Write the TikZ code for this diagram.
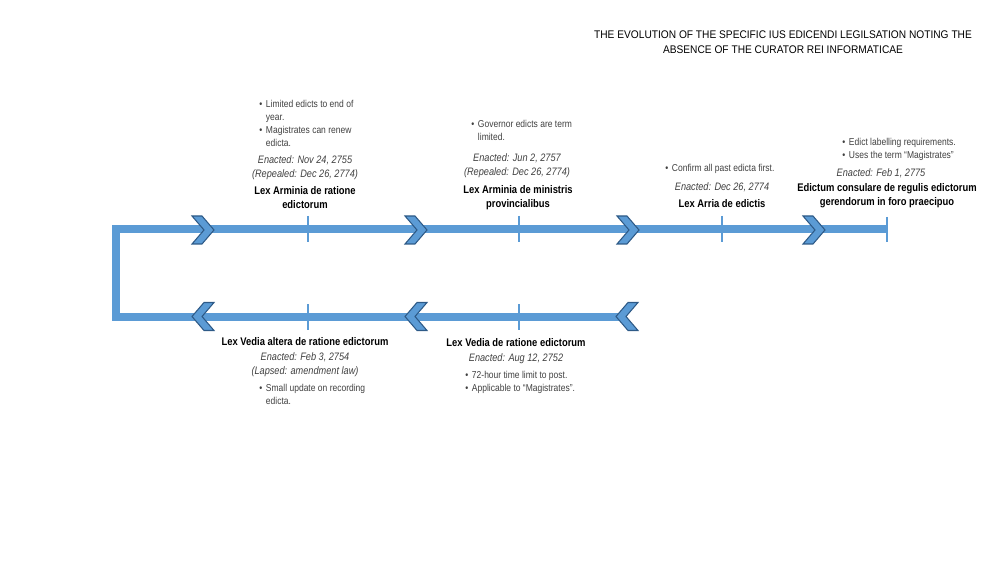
\documentclass[tikz,border=0pt]{standalone}
\usepackage{fontspec}
\setmainfont{Liberation Sans}
\newfontfamily\narrowsans[FakeStretch=0.85]{Liberation Sans}
\newfontfamily\titlesans[FakeStretch=0.92]{Liberation Sans}
\definecolor{tlblue}{HTML}{5B9BD5}
\definecolor{tledge}{HTML}{2E5A87}
\definecolor{txtgray}{HTML}{404040}
\newcommand\bulmark{\textbullet\hspace{2.8pt}}
\newcommand\bulgap{\hphantom{\textbullet\hspace{2.8pt}}}
\tikzset{
 tline/.style={draw=tlblue, line width=6pt, line join=miter},
 tickmark/.style={draw=tlblue, line width=2.2pt},
 chev/.style={fill=tlblue, draw=tledge, line width=0.8pt, line join=miter},
 lawtitle/.style={font=\narrowsans\fontsize{8.3}{10.5}\selectfont\bfseries, align=center, anchor=base, inner sep=0pt},
 dates/.style={font=\narrowsans\fontsize{8.1}{10.5}\selectfont\itshape, text=txtgray, align=center, anchor=base, inner sep=0pt},
 notes/.style={font=\narrowsans\fontsize{7.5}{9.75}\selectfont, text=txtgray, align=left, anchor=base west, inner sep=0pt},
 heading/.style={font=\titlesans\fontsize{8.3}{11.25}\selectfont, align=center, anchor=base, inner sep=0pt},
 chevright/.pic={\path[chev] (-11,-14) -- (-1,-14) -- (11,0) -- (-1,14) -- (-11,14) -- (1,0) -- cycle;},
 chevleft/.pic={\path[chev] (11,-14) -- (1,-14) -- (-11,0) -- (1,14) -- (11,14) -- (-1,0) -- cycle;},
}
\begin{document}
\begin{tikzpicture}[x=0.75pt,y=-0.75pt]
\useasboundingbox (0,0) rectangle (1000,563);
% title (base anchor = baseline of last line)
\node[heading] (title) at (783,54) {THE EVOLUTION OF THE SPECIFIC IUS EDICENDI LEGILSATION NOTING THE\\ABSENCE OF THE CURATOR REI INFORMATICAE};
% timeline
\coordinate (topend) at (887,229.5);
\coordinate (cornerA) at (116,229.5);
\coordinate (cornerB) at (116,316.5);
\coordinate (botend) at (625,316.5);
\draw[tline] (topend) -- (cornerA) -- (cornerB) -- (botend);
% ticks
\draw[tickmark] (308,216) -- (308,242);
\draw[tickmark] (519,216) -- (519,242);
\draw[tickmark] (722,216) -- (722,242);
\draw[tickmark] (887,217) -- (887,242);
\draw[tickmark] (308,304) -- (308,330);
\draw[tickmark] (519,304) -- (519,330);
% chevrons
\pic at (203,230) {chevright};
\pic at (416,230) {chevright};
\pic at (628,230) {chevright};
\pic at (814,230) {chevright};
\pic at (203,316.5) {chevleft};
\pic at (416,316.5) {chevleft};
\pic at (627,316.5) {chevleft};
% block 1
\node[notes] (n1) at (259,146.5) {\bulmark Limited edicts to end of\\\bulgap year.\\\bulmark Magistrates can renew\\\bulgap edicta.};
\node[dates] (d1) at (305,178) {Enacted: Nov 24, 2755\\(Repealed: Dec 26, 2774)};
\node[lawtitle] (t1) at (305,209) {Lex Arminia de ratione\\edictorum};
% block 2
\node[notes] (n2) at (471,140.5) {\bulmark Governor edicts are term\\\bulgap limited.};
\node[dates] (d2) at (517,176) {Enacted: Jun 2, 2757\\(Repealed: Dec 26, 2774)};
\node[lawtitle] (t2) at (518,208) {Lex Arminia de ministris\\provincialibus};
% block 3
\node[notes] (n3) at (665,171.5) {\bulmark Confirm all past edicta first.};
\node[dates] (d3) at (722,191) {Enacted: Dec 26, 2774};
\node[lawtitle] (t3) at (722,208) {Lex Arria de edictis};
% block 4
\node[notes] (n4) at (842,158.5) {\bulmark Edict labelling requirements.\\\bulmark Uses the term “Magistrates”};
\node[dates] (d4) at (881,177) {Enacted: Feb 1, 2775};
\node[lawtitle] (t4) at (887,206) {Edictum consulare de regulis edictorum\\gerendorum in foro praecipuo};
% bottom block 1
\node[lawtitle] (t5) at (305,345) {Lex Vedia altera de ratione edictorum};
\node[dates] (d5) at (305,374) {Enacted: Feb 3, 2754\\(Lapsed: amendment law)};
\node[notes] (n5) at (259,404.5) {\bulmark Small update on recording\\\bulgap edicta.};
% bottom block 2
\node[lawtitle] (t6) at (516,346) {Lex Vedia de ratione edictorum};
\node[dates] (d6) at (516,361) {Enacted: Aug 12, 2752};
\node[notes] (n6) at (465,391.5) {\bulmark 72-hour time limit to post.\\\bulmark Applicable to “Magistrates”.};
\end{tikzpicture}
\end{document}
